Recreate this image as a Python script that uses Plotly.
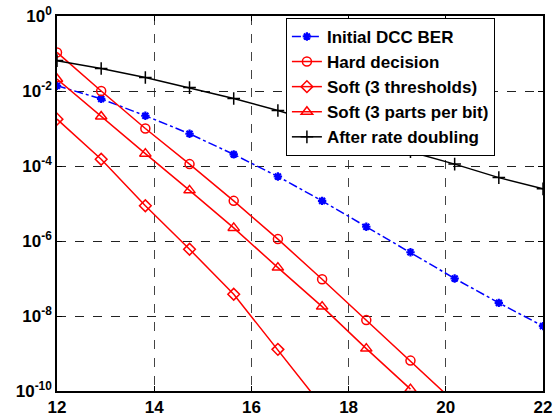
import numpy as np
import plotly.graph_objects as go

x_snr = [12.0, 12.909, 13.818, 14.727, 15.636, 16.545, 17.455, 18.364, 19.273, 20.182, 21.091, 22.0]

log_initial = [-1.86, -2.21, -2.66, -3.14, -3.69, -4.28, -4.93, -5.62, -6.30, -7.00, -7.65, -8.27]
log_hard = [-0.97, -2.00, -3.00, -3.95, -4.93, -5.95, -7.02, -8.11, -9.19, -10.30]
log_soft3t = [-2.75, -3.82, -5.06, -6.22, -7.42, -8.89, -10.40]
log_soft3p = [-1.68, -2.68, -3.67, -4.65, -5.65, -6.71, -7.75, -8.87, -9.95]
log_rate2 = [-1.19, -1.40, -1.64, -1.91, -2.20, -2.52, -2.87, -3.23, -3.62, -3.95, -4.31, -4.61]

names = ["Initial DCC BER", "Hard decision", "Soft (3 thresholds)",
         "Soft (3 parts per bit)", "After rate doubling"]

ytick_vals = [1e0, 1e-2, 1e-4, 1e-6, 1e-8, 1e-10]
ytick_text = ["<b>10<sup>0</sup></b>", "<b>10<sup>-2</sup></b>", "<b>10<sup>-4</sup></b>",
              "<b>10<sup>-6</sup></b>", "<b>10<sup>-8</sup></b>", "<b>10<sup>-10</sup></b>"]
xtick_vals = [12, 14, 16, 18, 20, 22]

FONT = "Arial, Liberation Sans, sans-serif"

def pw(v):
    return [10 ** a for a in v]

fig = go.Figure()
fig.add_trace(go.Scatter(x=x_snr[:len(log_initial)], y=pw(log_initial), name=names[0],
                         mode="lines+markers",
                         line=dict(color="#0000FF", width=1.5, dash="dashdot"),
                         marker=dict(symbol="asterisk-open", size=7, color="#0000FF",
                                     line=dict(width=2.2, color="#0000FF"))))
fig.add_trace(go.Scatter(x=x_snr[:len(log_hard)], y=pw(log_hard), name=names[1],
                         mode="lines+markers",
                         line=dict(color="#FF0000", width=1.5),
                         marker=dict(symbol="circle-open", size=9, color="#FF0000",
                                     line=dict(width=1.5, color="#FF0000"))))
fig.add_trace(go.Scatter(x=x_snr[:len(log_soft3t)], y=pw(log_soft3t), name=names[2],
                         mode="lines+markers",
                         line=dict(color="#FF0000", width=1.5),
                         marker=dict(symbol="diamond-open", size=9, color="#FF0000",
                                     line=dict(width=1.5, color="#FF0000"))))
fig.add_trace(go.Scatter(x=x_snr[:len(log_soft3p)], y=pw(log_soft3p), name=names[3],
                         mode="lines+markers",
                         line=dict(color="#FF0000", width=1.5),
                         marker=dict(symbol="triangle-up-open", size=10, color="#FF0000",
                                     line=dict(width=1.5, color="#FF0000"))))
fig.add_trace(go.Scatter(x=x_snr[:len(log_rate2)], y=pw(log_rate2), name=names[4],
                         mode="lines+markers",
                         line=dict(color="#000000", width=1.5),
                         marker=dict(symbol="cross-thin-open", size=9, color="#000000",
                                     line=dict(width=1.5, color="#000000"))))

fig.update_xaxes(range=[12, 22], tickvals=xtick_vals,
                 ticktext=[f"<b>{v}</b>" for v in xtick_vals],
                 showgrid=True, gridcolor="#444444", griddash="dash", gridwidth=1,
                 zeroline=False, showline=True, linecolor="black", linewidth=1.5,
                 mirror="ticks", ticks="inside", ticklen=5, tickcolor="black",
                 automargin=False,
                 tickfont=dict(family=FONT, size=17, color="black"))
fig.update_yaxes(type="log", range=[-10, 0], tickvals=ytick_vals, ticktext=ytick_text,
                 showgrid=True, gridcolor="#222222", griddash="dash", gridwidth=1,
                 zeroline=False, showline=True, linecolor="black", linewidth=1.5,
                 mirror="ticks", ticks="inside", ticklen=5, tickcolor="black",
                 automargin=False,
                 tickfont=dict(family=FONT, size=17, color="black"))

fig.update_layout(width=559, height=416,
                  margin=dict(l=57, r=16, t=16, b=25),
                  plot_bgcolor="white", paper_bgcolor="white",
                  font=dict(family=FONT, color="black"),
                  legend=dict(x=0.471, y=0.995, xanchor="left", yanchor="top",
                              bgcolor="white", bordercolor="black", borderwidth=1,
                              font=dict(family=FONT, size=17, color="black"),
                              tracegroupgap=0, itemwidth=30),
                  showlegend=True)

for tr in fig.data:
    tr.name = f"<b>{tr.name}</b>"

fig.write_html("out.html", config={"displayModeBar": False},
               post_script="document.body.style.margin='0px';document.body.style.overflow='hidden';")
